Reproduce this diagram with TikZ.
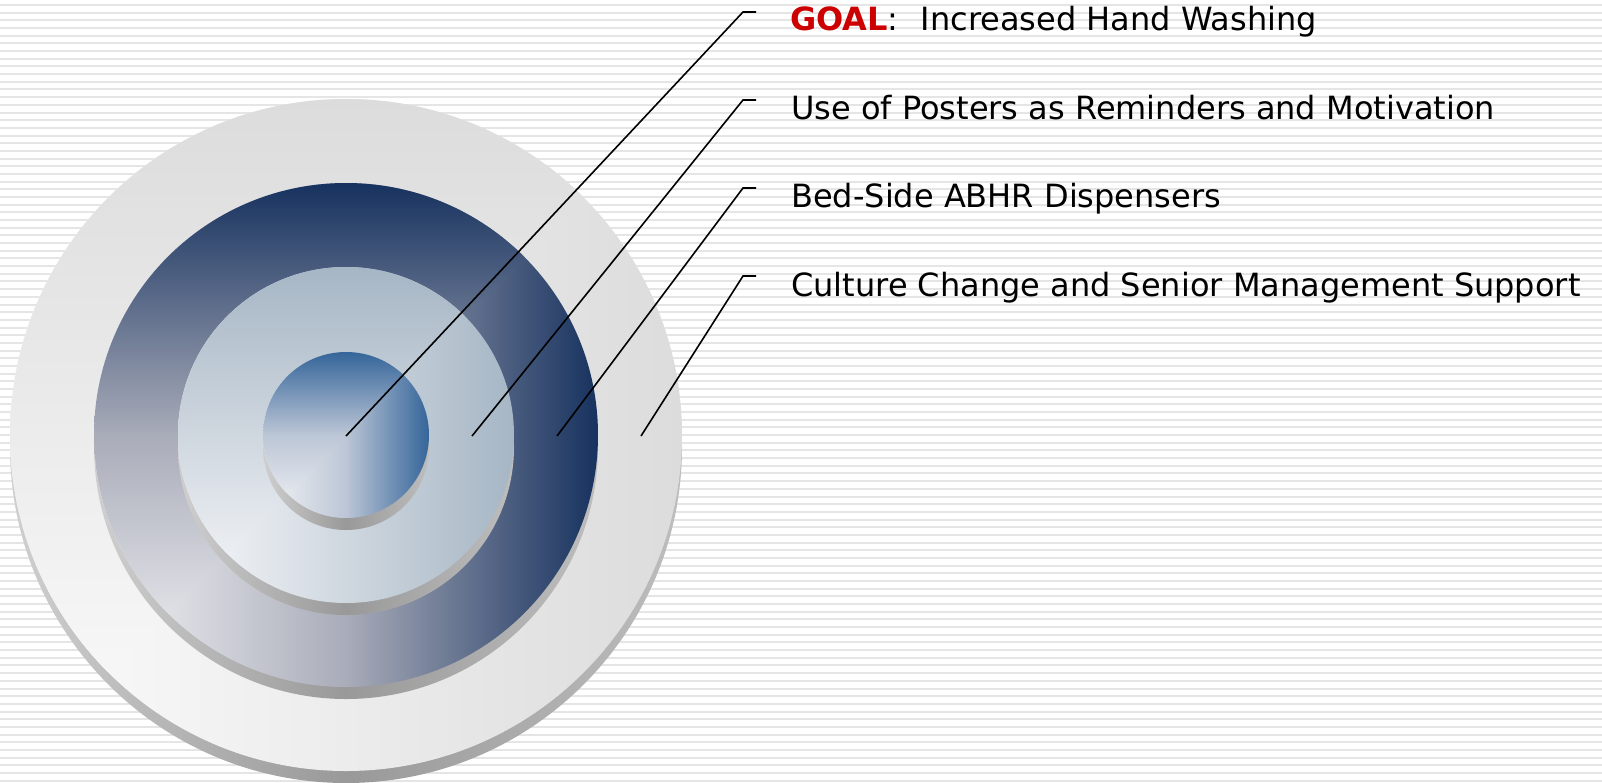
\documentclass[tikz,border=0pt]{standalone}
\usepackage{fontspec}
\setmainfont{DejaVu Sans}

\definecolor{goalred}{HTML}{CC0000}
\definecolor{stripegray}{HTML}{E5E5E5}
\definecolor{shadowlight}{HTML}{CFCFCF}
\definecolor{shadowdark}{HTML}{999999}
\definecolor{shadowright}{HTML}{BDBDBD}
% outer ring
\definecolor{outerdark}{HTML}{DCDCDC}
\definecolor{outermid}{HTML}{ECECEC}
\definecolor{outerlight}{HTML}{FBFBFB}
% navy ring
\definecolor{navydark}{HTML}{17325F}
\definecolor{navymid}{HTML}{A9ACB9}
\definecolor{navylight}{HTML}{F5F5F7}
% steel ring
\definecolor{steeldark}{HTML}{A6B6C5}
\definecolor{steelmid}{HTML}{CFD7DF}
\definecolor{steellight}{HTML}{F7F8FA}
% bull's eye
\definecolor{eyedark}{HTML}{35659A}
\definecolor{eyemid}{HTML}{BCC6D6}
\definecolor{eyelight}{HTML}{F3F4F6}

\tikzset{
  stripe/.style={stripegray, line width=2pt},
  leader/.style={black, line width=1.6pt},
  itemtext/.style={anchor=base west, inner sep=0pt, font=\fontsize{32}{38}\selectfont},
}

% one disk of the target: radius, dark, middle and light colour
\newcommand{\targetdisk}[4]{%
  \shade[left color=shadowlight, right color=shadowright, middle color=shadowdark]
    (346,447) circle (#1);
  \begin{scope}
    \clip (346,435) circle (#1);
    \shade[left color=#4, right color=#2, middle color=#3]
      (346-#1,435+#1) rectangle (346+#1,435-#1);
    \shade[top color=#2, bottom color=#4, middle color=#3]
      (346-#1,435+#1) -- (346-#1,435-#1) -- (346+#1,435-#1) -- cycle;
  \end{scope}}

\begin{document}
\begin{tikzpicture}[x=1pt, y=-1pt]
  \useasboundingbox (0,0) rectangle (1602,782);
  \fill[white] (0,0) rectangle (1602,782);

  % lined background
  \foreach \k in {0,...,101}
    \draw[stripe] (0,5+7.68*\k) -- (1602,5+7.68*\k);

  % the target, largest disk first
  \targetdisk{336}{outerdark}{outermid}{outerlight}
  \targetdisk{252}{navydark}{navymid}{navylight}
  \targetdisk{168}{steeldark}{steelmid}{steellight}
  \targetdisk{83}{eyedark}{eyemid}{eyelight}

  % texts
  \node[itemtext] (goal) at (790,30.5)
    {{\color{goalred}\bfseries GOAL}:\hspace{22pt}Increased Hand Washing};
  \node[itemtext] (posters) at (791,119.2) {Use of Posters as Reminders and Motivation};
  \node[itemtext] (abhr) at (791,207.9) {Bed-Side ABHR Dispensers};
  \node[itemtext] (culture) at (791,296.6) {Culture Change and Senior Management Support};

  % leader lines
  \coordinate (dot1) at (346,436);
  \coordinate (dot2) at (472,436);
  \coordinate (dot3) at (557,436);
  \coordinate (dot4) at (641,436);
  \foreach \i/\y in {1/12, 2/100, 3/188, 4/276} {
    \coordinate (bend\i) at (743,\y);
    \coordinate (tip\i) at (756,\y);
  }
  \draw[leader] (dot1) -- (bend1) -- (tip1);
  \draw[leader] (dot2) -- (bend2) -- (tip2);
  \draw[leader] (dot3) -- (bend3) -- (tip3);
  \draw[leader] (dot4) -- (bend4) -- (tip4);
\end{tikzpicture}
\end{document}
